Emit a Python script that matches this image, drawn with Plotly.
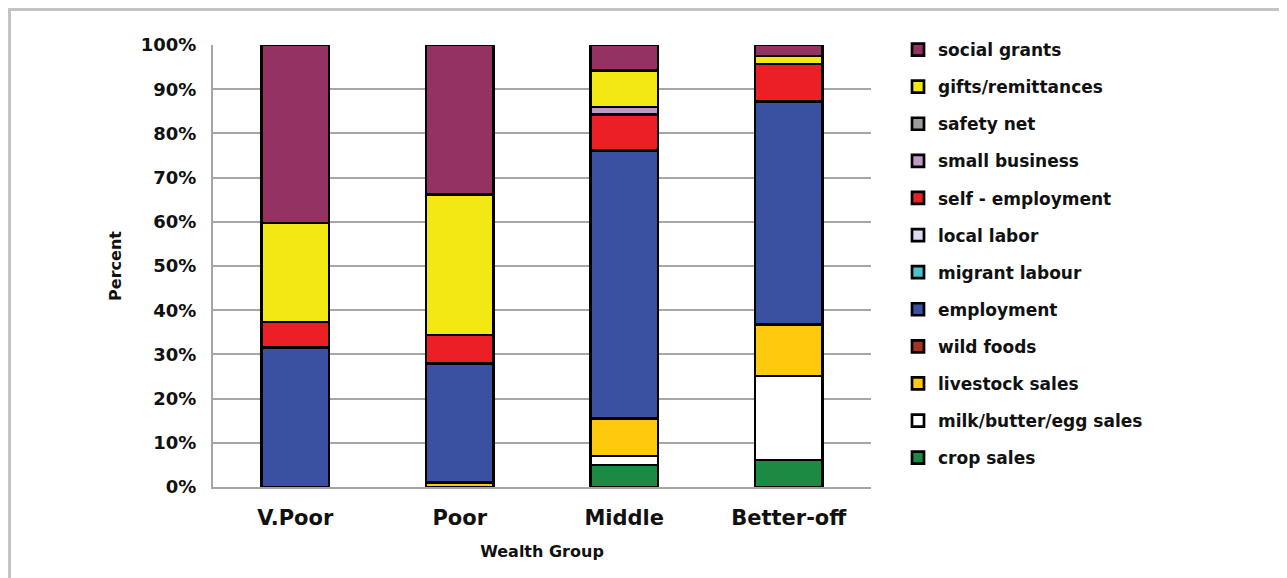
import plotly.graph_objects as go

groups = ["V.Poor", "Poor", "Middle", "Better-off"]

# stacking order bottom -> top
crop_sales        = [0, 0, 5.0, 6.1]
milk_butter_egg   = [0, 0, 2.0, 19.0]
livestock_sales   = [0, 1.0, 8.5, 11.6]
wild_foods        = [0, 0, 0, 0]
employment        = [31.6, 27.0, 60.7, 50.5]
migrant_labour    = [0, 0, 0, 0]
local_labor       = [0, 0, 0, 0]
self_employment   = [5.7, 6.4, 8.0, 8.5]
small_business    = [0, 0, 1.8, 0]
safety_net        = [0, 0, 0, 0]
gifts_remittances = [22.4, 31.7, 8.2, 1.8]
social_grants     = [40.3, 33.9, 5.8, 2.5]

series = [
    ("crop sales", crop_sales, "#1B8A43"),
    ("milk/butter/egg sales", milk_butter_egg, "#FFFFFF"),
    ("livestock sales", livestock_sales, "#FFC90E"),
    ("wild foods", wild_foods, "#A5331F"),
    ("employment", employment, "#3A51A1"),
    ("migrant labour", migrant_labour, "#4DC3C9"),
    ("local labor", local_labor, "#DCDCF0"),
    ("self - employment", self_employment, "#EC1F24"),
    ("small business", small_business, "#BD98C9"),
    ("safety net", safety_net, "#9B9B9B"),
    ("gifts/remittances", gifts_remittances, "#F2E813"),
    ("social grants", social_grants, "#953264"),
]

FONT = "DejaVu Sans"

fig = go.Figure()
for i, (name, vals, col) in enumerate(series):
    fig.add_trace(go.Bar(
        x=groups,
        y=[v if v else None for v in vals],
        name=name,
        legendgroup=name,
        legendrank=1000 - i,
        marker=dict(color=col, line=dict(color="#000000", width=2.7)),
        width=0.41,
    ))

# page body has an 8px margin, so the figure is offset by (8, 8)
OFF = 8
W, H = 1287 - OFF, 578 - OFF
L, T = 213 - OFF, 45 - OFF
RIGHT, BOTTOM = 871 - OFF, 487 - OFF
R, B = W - RIGHT, H - BOTTOM
PW, PH = RIGHT - L, BOTTOM - T

def px_x(p):
    # p in page pixels
    return (p - OFF - L) / PW

def px_y(p):
    return (BOTTOM - (p - OFF)) / PH

fig.update_layout(
    width=W, height=H,
    barmode="stack",
    margin=dict(l=L, r=R, t=T, b=B, autoexpand=False),
    paper_bgcolor="#FFFFFF",
    plot_bgcolor="#FFFFFF",
    font=dict(family=FONT, color="#111111"),
    showlegend=True,
    legend=dict(
        x=px_x(898), y=px_y(32), xanchor="left", yanchor="top",
        traceorder="grouped",
        tracegroupgap=12,
        font=dict(family=FONT, size=17, color="#111111", weight="bold"),
        bgcolor="rgba(0,0,0,0)",
        itemwidth=30,
        maxheight=700,
    ),
    xaxis=dict(
        title=dict(text="Wealth Group", font=dict(family=FONT, size=16, weight="bold", color="#111111"), standoff=17),
        tickfont=dict(family=FONT, size=21, weight="bold", color="#111111"),
        showline=True, linecolor="#A6A6A6", linewidth=2,
        showgrid=False, ticks="", ticklabelstandoff=11,
    ),
    yaxis=dict(
        title=dict(text="Percent", font=dict(family=FONT, size=16, weight="bold", color="#111111"), standoff=15),
        range=[0, 100],
        tickvals=[0, 10, 20, 30, 40, 50, 60, 70, 80, 90, 100],
        ticktext=["0%", "10%", "20%", "30%", "40%", "50%", "60%", "70%", "80%", "90%", "100%"],
        tickfont=dict(family=FONT, size=18, weight="bold", color="#111111"),
        showgrid=True, gridcolor="#A6A6A6", gridwidth=2,
        showline=True, linecolor="#A6A6A6", linewidth=2,
        zeroline=False, ticks="", ticklabelstandoff=11,
    ),
    shapes=[dict(
        type="rect", xref="paper", yref="paper",
        x0=px_x(9.5), x1=px_x(1285.5), y0=px_y(640), y1=px_y(9.5),
        line=dict(color="#C4C4C4", width=3), fillcolor="rgba(0,0,0,0)", layer="below",
    )],
)

fig.write_html("out.html")
